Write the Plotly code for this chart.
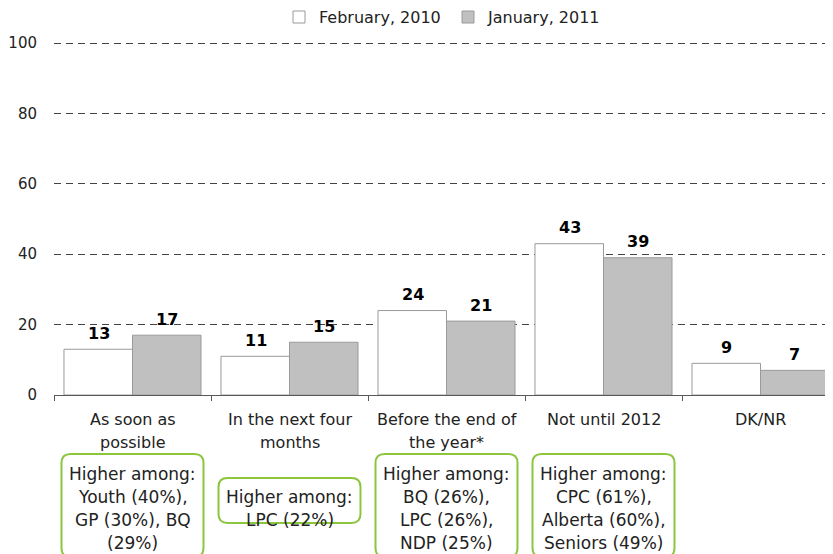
import plotly.graph_objects as go

# ---------------- data ----------------
categories = ["As soon as possible", "In the next four months",
              "Before the end of the year*", "Not until 2012", "DK/NR"]
category_lines = [["As soon as", "possible"], ["In the next four", "months"],
                  ["Before the end of", "the year*"], ["Not until 2012"], ["DK/NR"]]
series_names = ["February, 2010", "January, 2011"]
feb_2010 = [13, 11, 24, 43, 9]
jan_2011 = [17, 15, 21, 39, 7]
y_ticks = [0, 20, 40, 60, 80, 100]
notes = [["Higher among:", "Youth (40%),", "GP (30%), BQ", "(29%)"],
         ["Higher among:", "LPC (22%)"],
         ["Higher among:", "BQ (26%),", "LPC (26%),", "NDP (25%)"],
         ["Higher among:", "CPC (61%),", "Alberta (60%),", "Seniors (49%)"],
         []]

# ---------------- layout constants (pixels, in window coordinates) ----------------
WIN_W, WIN_H = 833, 554
OFF = 8                      # default page (body) margin of the html page
W, Hh = WIN_W - OFF, WIN_H - OFF
Y_MAX = 100.6
PX_PER_UNIT = 3.52
L, R, B = 54, 833, 395
T = B - Y_MAX * PX_PER_UNIT
CAT_PX = 157.0
FONT = "DejaVu Sans"
GREEN = "#8cc63f"

x_range = [-0.5, -0.5 + (R - L) / CAT_PX]


def px_x(i):
    return L + (i + 0.5) * CAT_PX


def to_px_paper_x(px):
    return (px - L) / (R - L)


def to_px_paper_y(py):
    return (B - py) / (B - T)


fig = go.Figure()
fig.add_trace(go.Bar(x=categories, y=feb_2010, name=series_names[0],
                     marker=dict(color="white", line=dict(color="#9a9a9a", width=1))))
fig.add_trace(go.Bar(x=categories, y=jan_2011, name=series_names[1],
                     marker=dict(color="#c0c0c0", line=dict(color="#9a9a9a", width=1))))

annotations = []
# data labels
for series, shift in ((feb_2010, -34), (jan_2011, 34)):
    for i, v in enumerate(series):
        annotations.append(dict(x=i, y=v, xref="x", yref="y", xshift=shift, yshift=16,
                                text="<b>%d</b>" % v, showarrow=False, yanchor="middle",
                                font=dict(family=FONT, size=16, color="black")))

# category labels (one line each, 23px line spacing)
for i, lines in enumerate(category_lines):
    for k, line in enumerate(lines):
        annotations.append(dict(x=to_px_paper_x(px_x(i)), y=to_px_paper_y(420 + 23 * k),
                                xref="paper", yref="paper", text=line, showarrow=False,
                                yanchor="middle", xanchor="center",
                                font=dict(family=FONT, size=16, color="#222")))

# note boxes
shapes = []
box_tops = [454, 478, 454, 454, 0]
box_bottoms = [557, 523, 557, 557, 0]
half_w = 71
rad = 9
text_center = 508.5
for i, lines in enumerate(notes):
    if not lines:
        continue
    cx = px_x(i)
    x0, x1 = cx - half_w, cx + half_w
    y0, y1 = box_tops[i], box_bottoms[i]

    def P(px, py):
        return "%.5f,%.5f" % (to_px_paper_x(px), to_px_paper_y(py))
    path = ("M" + P(x0 + rad, y0) + " L" + P(x1 - rad, y0) + " Q" + P(x1, y0) + " " + P(x1, y0 + rad) +
            " L" + P(x1, y1 - rad) + " Q" + P(x1, y1) + " " + P(x1 - rad, y1) +
            " L" + P(x0 + rad, y1) + " Q" + P(x0, y1) + " " + P(x0, y1 - rad) +
            " L" + P(x0, y0 + rad) + " Q" + P(x0, y0) + " " + P(x0 + rad, y0) + " Z")
    shapes.append(dict(type="path", path=path, xref="paper", yref="paper",
                       line=dict(color=GREEN, width=2), fillcolor="white", layer="above"))
    n = len(lines)
    for k, line in enumerate(lines):
        py = text_center + (k - (n - 1) / 2) * 23.3
        annotations.append(dict(x=to_px_paper_x(cx), y=to_px_paper_y(py),
                                xref="paper", yref="paper", text=line, showarrow=False,
                                yanchor="middle", xanchor="center",
                                font=dict(family=FONT, size=17, color="#222")))

fig.update_layout(
    width=W, height=Hh,
    margin=dict(l=L - OFF, r=WIN_W - R, t=T - OFF, b=WIN_H - B, pad=0, autoexpand=False),
    paper_bgcolor="white", plot_bgcolor="white",
    barmode="group", bargap=0.127, bargroupgap=0,
    font=dict(family=FONT, size=14, color="#222"),
    showlegend=True,
    legend=dict(orientation="h", xref="paper", yref="paper",
                x=to_px_paper_x(279), xanchor="left", y=to_px_paper_y(17), yanchor="middle",
                font=dict(family=FONT, size=16, color="#222"),
                itemwidth=30, entrywidth=124, tracegroupgap=0, bgcolor="rgba(0,0,0,0)"),
    annotations=annotations,
    shapes=shapes,
)
fig.update_xaxes(type="category", range=x_range, showticklabels=False, automargin=False,
                 showline=True, linecolor="#595959", linewidth=1,
                 ticks="outside", tickson="boundaries", ticklen=5, tickcolor="#595959",
                 showgrid=False, zeroline=False)
fig.update_yaxes(range=[0, Y_MAX], tickvals=y_ticks, showline=False, zeroline=False,
                 automargin=False,
                 showgrid=True, gridcolor="#444", gridwidth=1, griddash="7px,5px",
                 ticks="", ticklabelstandoff=16,
                 tickfont=dict(family=FONT, size=15, color="#222"))

fig.write_html("out.html")
